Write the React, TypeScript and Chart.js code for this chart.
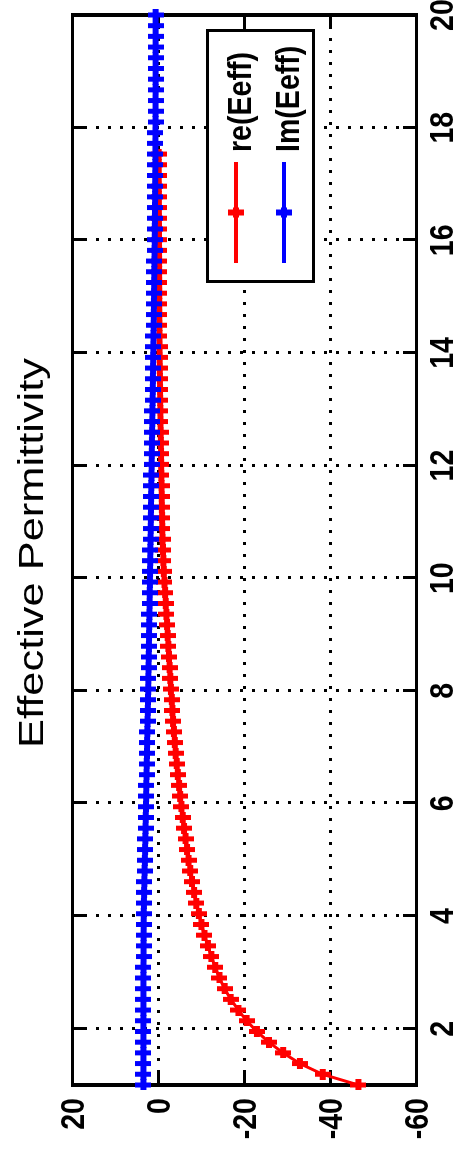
import { useEffect, useRef } from "react";
import { Chart, registerables } from "chart.js";

Chart.register(...registerables);

// Frequency samples (x axis)
const frequency = [
  1.0, 1.19, 1.38, 1.57, 1.76, 1.95, 2.14, 2.33, 2.52, 2.71,
  2.9, 3.09, 3.28, 3.47, 3.66, 3.85, 4.04, 4.23, 4.42, 4.61,
  4.8, 4.99, 5.18, 5.37, 5.56, 5.75, 5.94, 6.13, 6.32, 6.51,
  6.7, 6.89, 7.08, 7.27, 7.46, 7.65, 7.84, 8.03, 8.22, 8.41,
  8.6, 8.79, 8.98, 9.17, 9.36, 9.55, 9.74, 9.93, 10.12, 10.31,
  10.5, 10.69, 10.88, 11.07, 11.26, 11.45, 11.64, 11.83, 12.02, 12.21,
  12.4, 12.59, 12.78, 12.97, 13.16, 13.35, 13.54, 13.73, 13.92, 14.11,
  14.3, 14.49, 14.68, 14.87, 15.06, 15.25, 15.44, 15.63, 15.82, 16.01,
  16.2, 16.39, 16.58, 16.77, 16.96, 17.15, 17.34, 17.53, 17.72, 17.91,
  18.1, 18.29, 18.48, 18.67, 18.86, 19.05, 19.24, 19.43, 19.62, 19.81,
  20.0,
];

// Real part of the effective permittivity
const reEeff = [
  -46.6, -38.3, -33.0, -29.1, -25.8, -23.0, -20.6, -18.7, -16.9, -15.5,
  -14.3, -13.3, -12.4, -11.6, -10.8, -10.1, -9.5, -8.9, -8.4, -7.9,
  -7.5, -7.1, -6.75, -6.4, -6.05, -5.75, -5.45, -5.15, -4.9, -4.6,
  -4.35, -4.1, -3.9, -3.7, -3.5, -3.35, -3.2, -3.0, -2.85, -2.7,
  -2.55, -2.4, -2.25, -2.1, -1.95, -1.8, -1.65, -1.5, -1.35, -1.25,
  -1.15, -1.05, -1.0, -0.95, -0.9, -0.86, -0.82, -0.78, -0.74, -0.7,
  -0.66, -0.62, -0.58, -0.54, -0.5, -0.47, -0.44, -0.41, -0.38, -0.36,
  -0.34, -0.32, -0.3, -0.29, -0.28, -0.27, -0.26, -0.25, -0.24, -0.23,
  -0.22, -0.21, -0.2, -0.19, -0.18, -0.17, -0.16, -0.15,
];

// Imaginary part of the effective permittivity
const imEeff = [
  3.4, 3.4, 3.4, 3.4, 3.4, 3.4, 3.4, 3.4, 3.4, 3.4,
  3.4, 3.38, 3.37, 3.36, 3.35, 3.34, 3.32, 3.28, 3.24, 3.18,
  3.12, 3.06, 3.0, 2.95, 2.9, 2.85, 2.8, 2.76, 2.72, 2.67,
  2.62, 2.57, 2.53, 2.48, 2.43, 2.38, 2.33, 2.28, 2.24, 2.2,
  2.16, 2.12, 2.08, 2.04, 2.0, 1.96, 1.92, 1.88, 1.85, 1.81,
  1.78, 1.74, 1.7, 1.67, 1.63, 1.6, 1.56, 1.52, 1.48, 1.44,
  1.41, 1.37, 1.33, 1.3, 1.26, 1.22, 1.19, 1.15, 1.12, 1.08,
  1.05, 1.01, 0.98, 0.95, 0.92, 0.89, 0.86, 0.83, 0.8, 0.77,
  0.75, 0.72, 0.7, 0.68, 0.66, 0.64, 0.62, 0.61, 0.6, 0.59,
  0.58, 0.57, 0.57, 0.56, 0.56, 0.56, 0.56, 0.56, 0.56, 0.56,
  0.56,
];

const freqTicks = [2, 4, 6, 8, 10, 12, 14, 16, 18, 20];
const permTicks = [-60, -40, -20, 0, 20];
const seriesLabels = ["re(Eeff)", "Im(Eeff)"];
const seriesColors = ["#ff0000", "#0000ff"];
const titleText = "Effective Permittivity";

// The figure is laid out landscape and then turned a quarter turn counter-clockwise.
const W = 1151;
const H = 459;

const LABEL_FONT = "'Liberation Sans', Arial, sans-serif";
// horizontal squeeze applied to the bold tick / legend lettering
const LABEL_SQUEEZE = 0.84;

function makeMarker(color: string): HTMLCanvasElement {
  const c = document.createElement("canvas");
  c.width = 11;
  c.height = 16;
  const g = c.getContext("2d")!;
  g.fillStyle = color;
  g.fillRect(3, 0, 5, 16);
  g.fillRect(0, 5, 11, 6);
  return c;
}

function squeezedText(
  ctx: CanvasRenderingContext2D,
  text: string,
  x: number,
  y: number,
  align: CanvasTextAlign
) {
  ctx.save();
  ctx.translate(x, y);
  ctx.scale(LABEL_SQUEEZE, 1);
  ctx.textAlign = align;
  ctx.textBaseline = "alphabetic";
  ctx.fillText(text, 0, 0);
  ctx.restore();
}

const axesBoxPlugin = {
  id: "axesBox",
  beforeDatasetsDraw(chart: any) {
    const { ctx, chartArea: a, scales } = chart;
    const xs = scales.x;
    const ys = scales.y;
    ctx.save();
    ctx.strokeStyle = "#000";
    ctx.lineCap = "butt";

    // dotted grid
    ctx.lineWidth = 3;
    ctx.setLineDash([3, 9]);
    for (const v of freqTicks) {
      if (v <= xs.min || v >= xs.max) continue;
      const px = Math.round(xs.getPixelForValue(v)) + 0.5;
      ctx.beginPath();
      ctx.moveTo(px, a.top);
      ctx.lineTo(px, a.bottom);
      ctx.stroke();
    }
    for (const v of permTicks) {
      if (v <= ys.min || v >= ys.max) continue;
      const py = Math.round(ys.getPixelForValue(v)) + 0.5;
      ctx.beginPath();
      ctx.moveTo(a.left, py);
      ctx.lineTo(a.right, py);
      ctx.stroke();
    }
    ctx.setLineDash([]);

    // inward tick marks on all four sides
    const tl = 13;
    ctx.lineWidth = 3;
    for (const v of freqTicks) {
      const px = Math.round(xs.getPixelForValue(v)) + 0.5;
      ctx.beginPath();
      ctx.moveTo(px, a.bottom);
      ctx.lineTo(px, a.bottom - tl);
      ctx.moveTo(px, a.top);
      ctx.lineTo(px, a.top + tl);
      ctx.stroke();
    }
    for (const v of permTicks) {
      const py = Math.round(ys.getPixelForValue(v)) + 0.5;
      ctx.beginPath();
      ctx.moveTo(a.left, py);
      ctx.lineTo(a.left + tl, py);
      ctx.moveTo(a.right, py);
      ctx.lineTo(a.right - tl, py);
      ctx.stroke();
    }

    // axes box
    ctx.lineWidth = 3;
    ctx.beginPath();
    ctx.moveTo(a.left - 2, a.top + 0.5);
    ctx.lineTo(a.right + 2, a.top + 0.5);
    ctx.moveTo(a.left - 2, a.bottom + 0.5);
    ctx.lineTo(a.right + 2, a.bottom + 0.5);
    ctx.stroke();
    ctx.lineWidth = 4;
    ctx.beginPath();
    ctx.moveTo(a.left, a.top - 1);
    ctx.lineTo(a.left, a.bottom + 2);
    ctx.moveTo(a.right, a.top - 1);
    ctx.lineTo(a.right, a.bottom + 2);
    ctx.stroke();
    ctx.restore();
  },
  afterDatasetsDraw(chart: any) {
    const { ctx, chartArea: a } = chart;
    // legend box, east side of the axes
    const bx1 = a.right - 267;
    const bx2 = a.right - 16;
    const by1 = 207;
    const by2 = 313;
    ctx.save();
    ctx.fillStyle = "#fff";
    ctx.fillRect(bx1, by1, bx2 - bx1, by2 - by1);
    ctx.strokeStyle = "#000";
    ctx.lineWidth = 3;
    ctx.strokeRect(bx1 + 0.5, by1 + 0.5, bx2 - bx1, by2 - by1);

    const rowY = [236, 284];
    const lx1 = bx1 + 19;
    const lx2 = bx1 + 120;
    const mx = (lx1 + lx2) / 2;
    ctx.font = `bold 34px ${LABEL_FONT}`;
    seriesLabels.forEach((label, i) => {
      const y = rowY[i];
      ctx.strokeStyle = seriesColors[i];
      ctx.lineWidth = 4;
      ctx.beginPath();
      ctx.moveTo(lx1, y);
      ctx.lineTo(lx2, y);
      ctx.stroke();
      ctx.fillStyle = seriesColors[i];
      ctx.fillRect(mx - 3, y - 8, 6, 16);
      ctx.fillRect(mx - 5, y - 3, 10, 6);
      ctx.fillStyle = "#000";
      squeezedText(ctx, label, bx1 + 130, y + 15, "left");
    });
    ctx.restore();
  },
  afterDraw(chart: any) {
    const { ctx, chartArea: a, scales } = chart;
    const xs = scales.x;
    const ys = scales.y;
    ctx.save();

    // tick labels, placed from the scales' own ticks
    ctx.fillStyle = "#000";
    ctx.font = `bold 34px ${LABEL_FONT}`;
    for (const t of xs.ticks) {
      squeezedText(ctx, String(t.value), xs.getPixelForValue(t.value), a.bottom + 37, "center");
    }
    for (const t of ys.ticks) {
      squeezedText(ctx, String(t.value), a.left - 13, ys.getPixelForValue(t.value) + 12, "right");
    }

    // title
    ctx.font = `35px ${LABEL_FONT}`;
    ctx.textAlign = "center";
    ctx.textBaseline = "alphabetic";
    const w = ctx.measureText(titleText).width;
    ctx.translate((a.left + a.right) / 2 - 3, 43);
    ctx.scale(390 / w, 1);
    ctx.fillText(titleText, 0, 0);
    ctx.restore();
  },
};

export default function App() {
  const ref = useRef<HTMLCanvasElement>(null);

  useEffect(() => {
    const canvas = ref.current;
    if (!canvas) return;

    const chart = new Chart(canvas, {
      type: "line",
      data: {
        datasets: [
          {
            label: seriesLabels[0],
            data: reEeff.map((v, i) => ({ x: frequency[i], y: v })),
            borderColor: seriesColors[0],
            backgroundColor: seriesColors[0],
            borderWidth: 3,
            pointStyle: makeMarker(seriesColors[0]),
            pointRadius: 5,
            tension: 0,
            clip: false as any,
            order: 2,
          },
          {
            label: seriesLabels[1],
            data: imEeff.map((v, i) => ({ x: frequency[i], y: v })),
            borderColor: seriesColors[1],
            backgroundColor: seriesColors[1],
            borderWidth: 3,
            pointStyle: makeMarker(seriesColors[1]),
            pointRadius: 5,
            tension: 0,
            clip: false as any,
            order: 1,
          },
        ],
      },
      options: {
        responsive: false,
        animation: false,
        devicePixelRatio: 1,
        events: [],
        layout: { padding: { top: 72, right: 15, left: 0, bottom: 0 } },
        plugins: {
          legend: { display: false },
          title: { display: false },
          tooltip: { enabled: false },
        },
        scales: {
          x: {
            type: "linear",
            position: "bottom",
            min: 1,
            max: 20,
            grid: { display: false, drawTicks: false },
            border: { display: false },
            ticks: { display: false, autoSkip: false },
            afterBuildTicks: (s: any) => {
              s.ticks = freqTicks.map((v) => ({ value: v }));
            },
            afterFit: (s: any) => {
              s.height = 43;
              s.paddingLeft = 0;
              s.paddingRight = 0;
            },
          },
          y: {
            type: "linear",
            position: "left",
            min: -60,
            max: 20,
            grid: { display: false, drawTicks: false },
            border: { display: false },
            ticks: { display: false, autoSkip: false },
            afterBuildTicks: (s: any) => {
              s.ticks = permTicks.map((v) => ({ value: v }));
            },
            afterFit: (s: any) => {
              s.width = 66;
              s.paddingTop = 0;
              s.paddingBottom = 0;
            },
          },
        },
      },
      plugins: [axesBoxPlugin],
    });

    return () => chart.destroy();
  }, []);

  return (
    <div
      style={{
        position: "fixed",
        left: 0,
        top: 0,
        width: W,
        height: H,
        background: "#fff",
        transformOrigin: "0 0",
        transform: `translate(0px, ${W}px) rotate(-90deg)`,
      }}
    >
      <canvas ref={ref} width={W} height={H} style={{ display: "block", width: W, height: H }} />
    </div>
  );
}
